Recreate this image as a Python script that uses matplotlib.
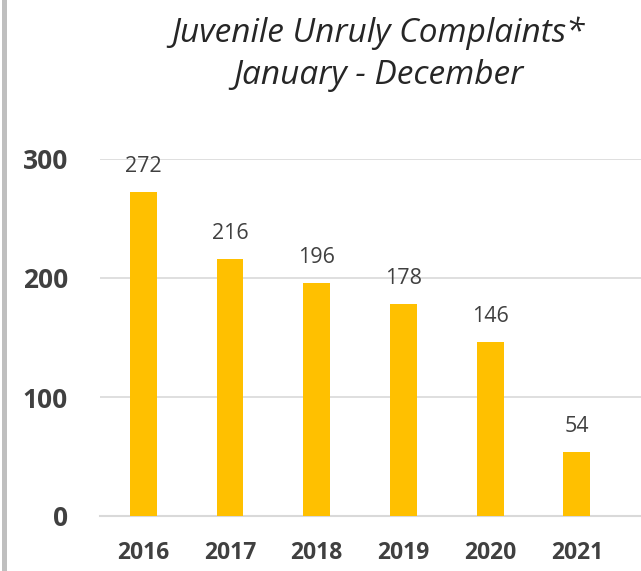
import matplotlib
matplotlib.use("Agg")
import matplotlib.pyplot as plt
from matplotlib.patches import Rectangle

years = ["2016", "2017", "2018", "2019", "2020", "2021"]
complaints = [272, 216, 196, 178, 146, 54]
y_ticks = [0, 100, 200, 300]
title_lines = ["Juvenile Unruly Complaints*", "January - December"]

W, H = 641, 571
fig = plt.figure(figsize=(W / 100, H / 100), dpi=100)
fig.patch.set_facecolor("white")

# plot area in pixel units
left, right, bottom, top = 100, 641, 516, 159
ax = fig.add_axes([left / W, (H - bottom) / H, (right - left) / W, (bottom - top) / H])

x = list(range(len(years)))
ax.bar(x, complaints, width=0.31, color="#FFC000", zorder=3)

for xi, v in zip(x, complaints):
    ax.annotate(str(v), (xi, v), xytext=(0, 18.5), textcoords="offset points",
                ha="center", va="center", fontsize=15.5, color="#404040",
                family="Open Sans", annotation_clip=False)

ax.set_xlim(-0.5, 5.74)
ax.set_ylim(0, 300)
ax.set_yticks(y_ticks)
ax.set_yticklabels([str(t) for t in y_ticks], fontsize=19, fontweight="bold",
                   color="#404040", family="Open Sans")
ax.set_xticks(x)
ax.set_xticklabels(years, fontsize=16.5, fontweight="bold", color="#404040",
                   family="Open Sans")
ax.tick_params(axis="y", length=0, pad=23)
ax.tick_params(axis="x", length=0, pad=18)

ax.grid(axis="y", color="#d9d9d9", linewidth=1.2, zorder=0)
for s in ["top", "right", "left"]:
    ax.spines[s].set_visible(False)
ax.spines["bottom"].set_color("#d9d9d9")
ax.spines["bottom"].set_linewidth(1.5)

# title
fig.text(378 / W, 1 - 33 / H, title_lines[0], ha="center", va="center",
         fontsize=24, style="italic", color="#262626", family="Open Sans")
fig.text(378 / W, 1 - 75 / H, title_lines[1], ha="center", va="center",
         fontsize=24, style="italic", color="#262626", family="Open Sans")

# grey border on the left edge
fig.add_artist(Rectangle((2 / W, 0), 5 / W, 1, transform=fig.transFigure,
                         facecolor="#bfbfbf", edgecolor="none"))

fig.savefig("out.png", dpi=100)
